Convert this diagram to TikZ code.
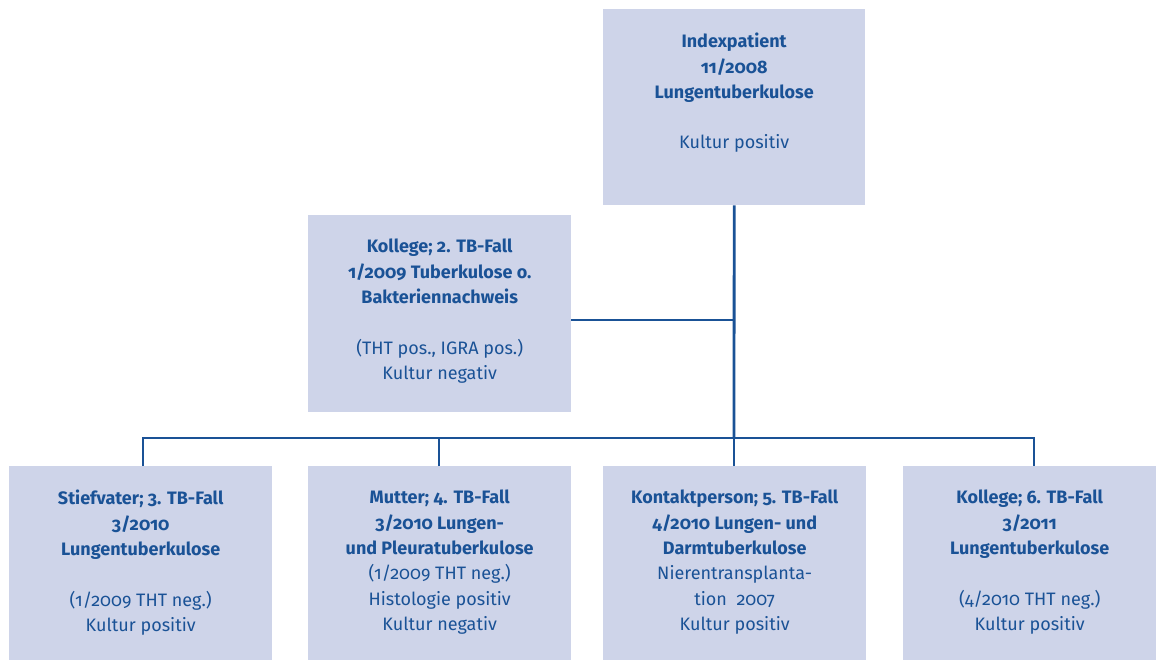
\documentclass[tikz,border=0pt]{standalone}
\usepackage{fontspec}
\setmainfont{Fira Sans}[Numbers=OldStyle]
\definecolor{boxfill}{RGB}{206,212,233}
\definecolor{ink}{RGB}{26,82,150}
\tikzset{
  casebox/.style={fill=boxfill, draw=none, inner sep=0pt, anchor=north west},
  casetext/.style={anchor=north, align=center, text=ink, inner sep=0pt,
    font=\fontsize{18}{25.3}\selectfont},
  link/.style={draw=ink, line width=2.8pt}
}
\begin{document}
\begin{tikzpicture}[x=1pt,y=-1pt]
\useasboundingbox (0,0) rectangle (1156,660);
% boxes
\node[casebox, minimum width=262pt, minimum height=196pt] (b1) at (603,9) {};
\node[casebox, minimum width=263pt, minimum height=197pt] (b2) at (308,215) {};
\node[casebox, minimum width=263pt, minimum height=194pt] (b3) at (9,466) {};
\node[casebox, minimum width=263pt, minimum height=194pt] (b4) at (308,466) {};
\node[casebox, minimum width=263pt, minimum height=194pt] (b5) at (603,466) {};
\node[casebox, minimum width=253pt, minimum height=194pt] (b6) at (903,466) {};
% texts
\node[casetext] (t1) at ([yshift=-24pt]b1.north) {\textbf{Indexpatient}\\\textbf{11/2008}\\\textbf{Lungentuberkulose}\\[25.3pt]Kultur positiv};
\node[casetext] (t2) at ([yshift=-24pt]b2.north) {\textbf{Kollege; 2. TB-Fall}\\\textbf{1/2009 Tuberkulose o.}\\\textbf{Bakteriennachweis}\\[25.3pt](THT pos., IGRA pos.)\\Kultur negativ};
\node[casetext] (t3) at ([yshift=-24pt]b3.north) {\textbf{Stiefvater; 3. TB-Fall}\\\textbf{3/2010}\\\textbf{Lungentuberkulose}\\[25.3pt](1/2009 THT neg.)\\Kultur positiv};
\node[casetext] (t4) at ([yshift=-24pt]b4.north) {\textbf{Mutter; 4. TB-Fall}\\\textbf{3/2010 Lungen-}\\\textbf{und Pleuratuberkulose}\\(1/2009 THT neg.)\\Histologie positiv\\Kultur negativ};
\node[casetext] (t5) at ([yshift=-24pt]b5.north) {\textbf{Kontaktperson; 5. TB-Fall}\\\textbf{4/2010 Lungen- und}\\\textbf{Darmtuberkulose}\\Nierentransplanta-\\tion\ \ 2007\\Kultur positiv};
\node[casetext] (t6) at ([yshift=-24pt]b6.north) {\textbf{Kollege; 6. TB-Fall}\\\textbf{3/2011}\\\textbf{Lungentuberkulose}\\[25.3pt](4/2010 THT neg.)\\Kultur positiv};
% connectors
\coordinate (bus) at (734,438);
\coordinate (j2) at (734,320);
\coordinate (s3) at (143,438);
\coordinate (s4) at (439,438);
\coordinate (s6) at (1034,438);
\draw[link] (b1.south) -- (bus);
\draw[link] (b2.east |- j2) -- (j2);
\draw[link] (b3.north -| s3) -- (s3) -- (s6) -- (b6.north -| s6);
\draw[link] (b4.north -| s4) -- (s4);
\draw[link] (b5.north -| bus) -- (bus);
\end{tikzpicture}
\end{document}
